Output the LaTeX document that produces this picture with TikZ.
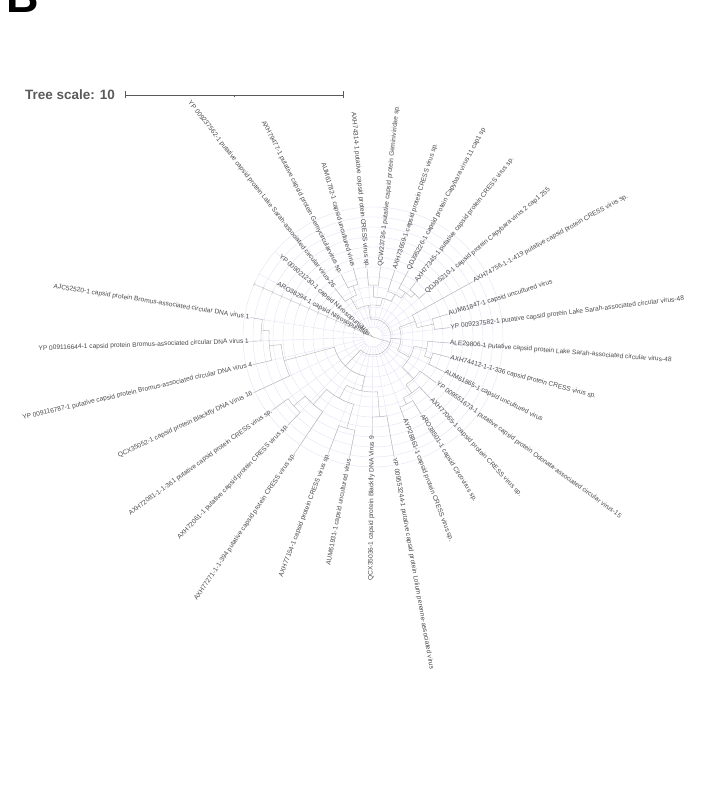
\documentclass[tikz,border=0pt]{standalone}
\usepackage{fontspec}
\setmainfont{Liberation Sans}
\definecolor{labgray}{HTML}{4A4A4A}
\definecolor{treegray}{HTML}{B2B2B2}
\definecolor{gridlav}{HTML}{E2E2F4}
\definecolor{titlegray}{HTML}{5A5A5A}
\newcommand\tbr[3]{\draw[treeline] (#1:#2pt) -- (#1:#3pt);}
\newcommand\tarc[3]{\draw[treeline] (#1:#3pt) arc[start angle=#1, end angle=#2, radius=#3pt];}
\tikzset{
  treeline/.style={draw=treegray, line width=0.4pt},
  gridline/.style={draw=gridlav, line width=0.4pt},
  leaflab/.style={font=\fontsize{6.6}{7.6}\selectfont, text=labgray, inner sep=1pt},
}
\begin{document}
\begin{tikzpicture}[x=1pt,y=1pt]
\useasboundingbox (0,0) rectangle (701,808);
% panel letter
\node[anchor=base west, inner sep=0, font=\fontsize{45}{45}\selectfont\bfseries] (panelB) at (6.7,795) {B};
% tree scale
\node[anchor=base west, inner sep=0, font=\fontsize{13.5}{14}\selectfont\bfseries, text=titlegray] (scaletxt) at (25,708.5) {Tree scale: 10};
\coordinate (sbL) at (125,713);
\coordinate (sbR) at (343,713);
\coordinate (sbM) at (234,713);
\draw[titlegray, line width=0.7pt] (sbL) -- (sbR);
\draw[titlegray, line width=0.7pt] ([yshift=3.5pt]sbL) -- ([yshift=-3.5pt]sbL);
\draw[titlegray, line width=0.7pt] ([yshift=3.5pt]sbR) -- ([yshift=-3.5pt]sbR);
\draw[titlegray, line width=0.7pt] (sbM) -- ([yshift=-2.5pt]sbM);
\begin{scope}[shift={(373,471)}]
  % grid circles
  \foreach \rr in {10,20,...,130} \draw[gridline] (0,0) circle[radius=\rr pt];
  % spokes
  \foreach \a in {151,139,128,117,106,95,84,72,62,52,40,29,17,7,-4.5,-15,-26,-36,-47,-58,-69,-80,-90.5,-101,-111,-124,-134,-144,-155,-167,-178,171}
    \draw[gridline] (\a:10pt) -- (\a:130pt);
  % radial axis with ticks
  \draw[treegray!80, line width=0.4pt] (156:0pt) -- (156:130pt);
  \foreach \rr in {10,20,...,130} \draw[treegray!80, line width=0.4pt] (156:\rr pt) ++(66:2pt) -- ++(246:4pt);
  % ----- tree -----
  % root
  \tbr{151}{0}{3} \tbr{139}{0}{6} \tbr{-17.8}{0}{18}
  \tarc{98}{-133.55}{18}
  % top clade
  \tbr{98}{18}{32}
  \tarc{119.75}{76.25}{32}
  \tbr{119.75}{32}{45} \tarc{128}{111.5}{45}
  \tbr{128}{45}{62} \tbr{111.5}{45}{55}
  \tarc{117}{106}{55} \tbr{117}{55}{70} \tbr{106}{55}{72}
  \tbr{76.25}{32}{40} \tarc{89.5}{63}{40}
  \tbr{89.5}{40}{52} \tarc{95}{84}{52} \tbr{95}{52}{68} \tbr{84}{52}{70}
  \tbr{63}{40}{48} \tarc{72}{54}{48} \tbr{72}{48}{70} \tbr{54}{48}{55}
  \tarc{62}{46}{55} \tbr{62}{55}{75} \tbr{46}{55}{60}
  \tarc{52}{40}{60} \tbr{52}{60}{69} \tbr{40}{60}{68}
  % right clade
  \tbr{-4.25}{18}{28} \tarc{20.5}{-29}{28}
  \tbr{20.5}{28}{45} \tarc{29}{12}{45} \tbr{29}{45}{114} \tbr{12}{45}{62}
  \tarc{17}{7}{62} \tbr{17}{62}{78} \tbr{7}{62}{77}
  \tbr{-29}{28}{42} \tarc{-12.5}{-45.6}{42}
  \tbr{-12.5}{42}{55} \tarc{-4.5}{-20.5}{55} \tbr{-4.5}{55}{76} \tbr{-20.5}{55}{62}
  \tarc{-15}{-26}{62} \tbr{-15}{62}{79} \tbr{-26}{62}{79}
  \tbr{-45.6}{42}{58} \tarc{-36}{-55.25}{58} \tbr{-36}{58}{78} \tbr{-55.25}{58}{68}
  \tarc{-47}{-63.5}{68} \tbr{-47}{68}{84} \tbr{-63.5}{68}{75}
  \tarc{-58}{-69}{75} \tbr{-58}{75}{91} \tbr{-69}{75}{87}
  % bottom-left clade
  \tbr{-133.55}{18}{40} \tarc{-102}{-165.1}{40}
  \tbr{-102}{40}{55} \tarc{-85.25}{-118.75}{55}
  \tbr{-85.25}{55}{80} \tarc{-80}{-90.5}{80} \tbr{-80}{80}{122} \tbr{-90.5}{80}{98}
  \tbr{-118.75}{55}{70} \tarc{-106}{-131.5}{70}
  \tbr{-106}{70}{95} \tarc{-101}{-111}{95} \tbr{-101}{95}{123} \tbr{-111}{95}{124}
  \tbr{-131.5}{70}{90} \tarc{-124}{-139}{90} \tbr{-124}{90}{142} \tbr{-139}{90}{105}
  \tarc{-134}{-144}{105} \tbr{-134}{105}{122} \tbr{-144}{105}{124}
  \tbr{-165.1}{40}{92} \tarc{-155}{-175.25}{92} \tbr{-155}{92}{132} \tbr{-175.25}{92}{104}
  \tarc{-167}{-183.5}{104} \tbr{-167}{104}{123} \tbr{-183.5}{104}{112}
  \tarc{-178}{-189}{112} \tbr{-178}{112}{123} \tbr{-189}{112}{124}
  % ----- labels, right half -----
  \foreach \a/\r/\t [count=\i] in {
    84/70/{QCW23736-1 putative capsid protein Geminiviridae sp.},
    72/70/{AXH73659-1 capsid protein CRESS virus sp.},
    62/75/{QDJ95226-1 capsid protein Capybara virus 11 cap1 sp},
    52/69/{AXH77345-1 putative capsid protein CRESS virus sp.},
    40/68/{QDJ95210-1 capsid protein Capybara virus 2 cap1 255},
    29/114/{AXH74756-1-1-419 putative capsid protein CRESS virus sp.},
    17/78/{AUM61847-1 capsid uncultured virus},
    7/77/{YP 009237582-1 putative capsid protein Lake Sarah-associated circular virus-48},
    -4.5/76/{ALE29806-1 putative capsid protein Lake Sarah-associated circular virus-48},
    -15/79/{AXH74412-1-1-336 capsid protein CRESS virus sp.},
    -26/79/{AUM61865-1 capsid uncultured virus},
    -36/78/{YP 009551673-1 putative capsid protein Odonata-associated circular virus-15},
    -47/84/{AXH77065-1 capsid protein CRESS virus sp.},
    -58/91/{ARO38501-1 capsid Circovirus sp.},
    -69/87/{AYP28861-1 capsid protein CRESS virus sp.},
    -80/122/{YP 009553244-1 putative capsid protein Lolium perenne-associated virus}}
    \node[leaflab, anchor=west, rotate=\a] (R\i) at (\a:\r pt) {\t};
  % ----- labels, left half -----
  \foreach \a/\r/\t [count=\i] in {
    151/3/{ARO38294-1 capsid Nitrosopumilus},
    139/6/{YP 009021230-1 capsid Nitrosopumilus},
    128/62/{YP 009237562-1 putative capsid protein Lake Sarah-associated circular virus-26},
    117/70/{AXH79477-1 putative capsid protein Gemycircularvirus sp.},
    106/72/{AUM61782-1 capsid uncultured virus},
    95/68/{AXH74314-1 putative capsid protein CRESS virus sp.},
    -90.5/98/{QCX35036-1 capsid protein Blackfly DNA Virus 9},
    -101/123/{AUM61931-1 capsid uncultured virus},
    -111/124/{AXH77154-1 capsid protein CRESS virus sp.},
    -124/140/{AXH77271-1-1-394 putative capsid protein CRESS virus sp.},
    -134/122/{AXH72061-1 putative capsid protein CRESS virus sp.},
    -144/124/{AXH72081-1-1-361 putative capsid protein CRESS virus sp.},
    -155/132/{QCX35052-1 capsid protein Blackfly DNA Virus 16},
    -167/123/{YP 009116787-1 putative capsid protein Bromus-associated circular DNA virus 4},
    -178/123/{YP 009116644-1 capsid protein Bromus-associated circular DNA virus 1},
    171/124/{AJC52520-1 capsid protein Bromus-associated circular DNA virus 1}}
    \node[leaflab, anchor=east, rotate={\a+180}] (L\i) at (\a:\r pt) {\t};
\end{scope}
\end{tikzpicture}
\end{document}
